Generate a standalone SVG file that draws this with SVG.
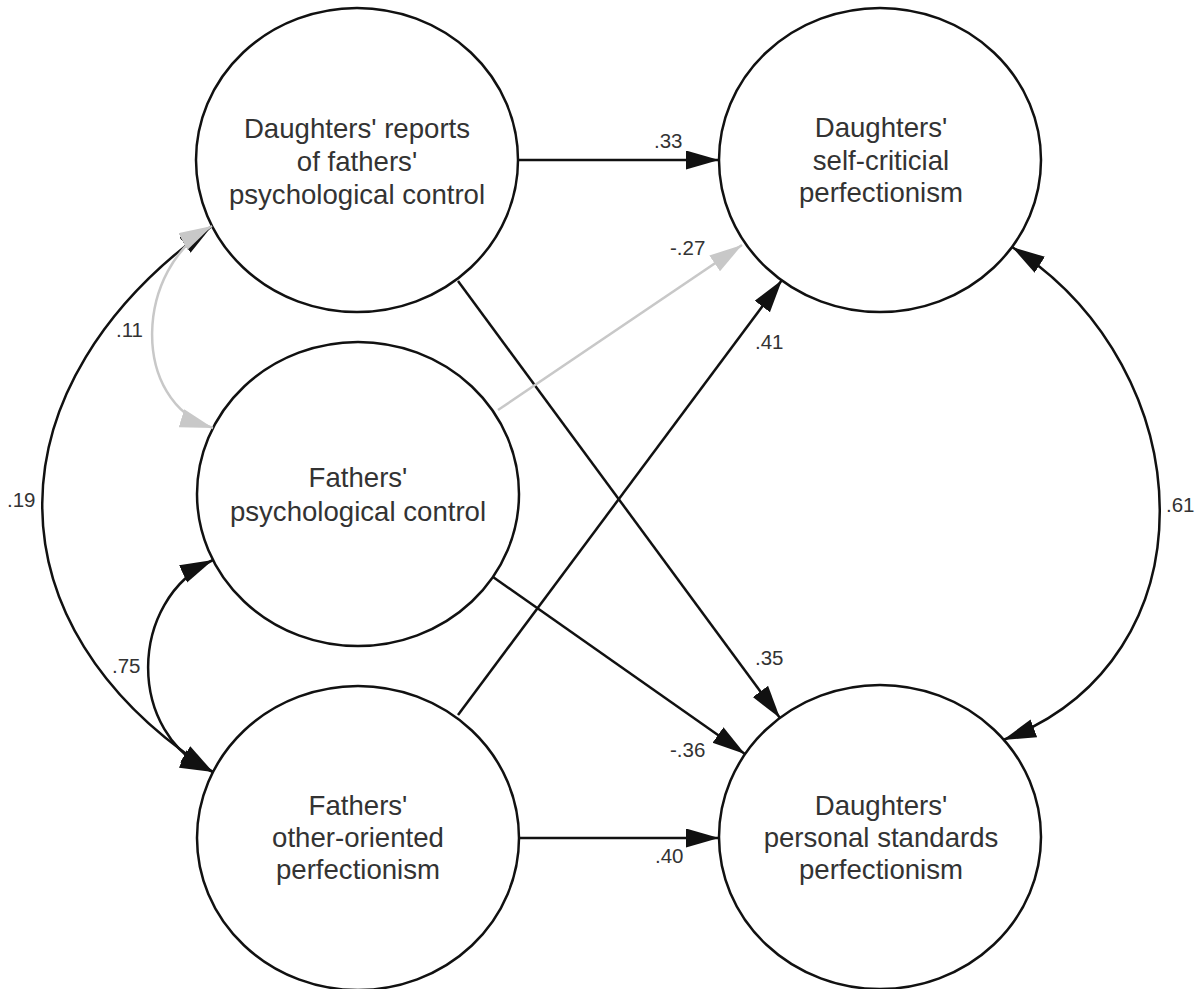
<svg xmlns="http://www.w3.org/2000/svg" width="1203" height="989" viewBox="0 0 1203 989">
<style>
.node{fill:#fff;stroke:#111;stroke-width:2.5}
.lbl{font-family:"Liberation Sans",Arial,sans-serif;font-size:27.6px;fill:#333;text-anchor:middle}
.num{font-family:"Liberation Sans",Arial,sans-serif;font-size:20.5px;fill:#333}
.c{fill:none;stroke:#111;stroke-width:2.5}
.g{fill:none;stroke:#c8c8c8;stroke-width:2.5}
</style>
<defs>
<marker id="ab" markerUnits="userSpaceOnUse" markerWidth="36" markerHeight="20" refX="33" refY="9.5" orient="auto-start-reverse" viewBox="0 0 36 20">
<path d="M0,0 L33,9.5 L0,19 z" fill="#111"/>
</marker>
<marker id="ag" markerUnits="userSpaceOnUse" markerWidth="36" markerHeight="20" refX="33" refY="9.5" orient="auto-start-reverse" viewBox="0 0 36 20">
<path d="M0,0 L33,9.5 L0,19 z" fill="#c8c8c8"/>
</marker>
</defs>
<rect width="1203" height="989" fill="#fff"/>
<g id="nodes">
<g id="n-reports"><ellipse class="node" cx="357" cy="160" rx="161" ry="152"/>
<text class="lbl" x="357" y="138">Daughters' reports</text><text class="lbl" x="357" y="171">of fathers'</text><text class="lbl" x="357" y="204">psychological control</text></g>
<g id="n-fpc"><ellipse class="node" cx="358" cy="494" rx="161" ry="152"/>
<text class="lbl" x="358" y="487">Fathers'</text><text class="lbl" x="358" y="521">psychological control</text></g>
<g id="n-foop"><ellipse class="node" cx="358" cy="838" rx="161" ry="152"/>
<text class="lbl" x="358" y="815">Fathers'</text><text class="lbl" x="358" y="847">other-oriented</text><text class="lbl" x="358" y="879">perfectionism</text></g>
<g id="n-scp"><ellipse class="node" cx="880" cy="160" rx="161" ry="152"/>
<text class="lbl" x="881" y="137">Daughters'</text><text class="lbl" x="881" y="170">self-criticial</text><text class="lbl" x="881" y="202">perfectionism</text></g>
<g id="n-psp"><ellipse class="node" cx="880" cy="837" rx="161" ry="152"/>
<text class="lbl" x="881" y="815">Daughters'</text><text class="lbl" x="881" y="847">personal standards</text><text class="lbl" x="881" y="879">perfectionism</text></g>
</g>
<g id="connectors">
<path class="c" d="M519,160 L719,160" marker-end="url(#ab)"/>
<path class="c" d="M458,281 L780,718" marker-end="url(#ab)"/>
<path class="g" d="M498,410 L742,245" marker-end="url(#ag)"/>
<path class="c" d="M458,715 L782,280" marker-end="url(#ab)"/>
<path class="c" d="M493,577 L745,754" marker-end="url(#ab)"/>
<path class="c" d="M520,838 L719,838" marker-end="url(#ab)"/>
<path class="c" d="M1012,247 C1204,370 1217,660 1003,740" marker-start="url(#ab)" marker-end="url(#ab)"/>
<path class="c" d="M212,226 C-11,384 -18,625 213,772" marker-start="url(#ab)" marker-end="url(#ab)"/>
<path class="c" d="M213,560 C127,600 126,735 213,772" marker-start="url(#ab)" marker-end="url(#ab)"/>
<path class="g" d="M212,226 C135,267 129,402 213,428" marker-start="url(#ag)" marker-end="url(#ag)"/>
</g>
<g id="labels">
<text class="num" x="654" y="148">.33</text>
<text class="num" x="670" y="255">-.27</text>
<text class="num" x="755" y="349">.41</text>
<text class="num" x="755" y="665">.35</text>
<text class="num" x="670" y="757">-.36</text>
<text class="num" x="655" y="863">.40</text>
<text class="num" x="1166" y="512">.61</text>
<text class="num" x="116" y="337">.11</text>
<text class="num" x="7" y="507">.19</text>
<text class="num" x="112" y="673">.75</text>
</g>
</svg>
